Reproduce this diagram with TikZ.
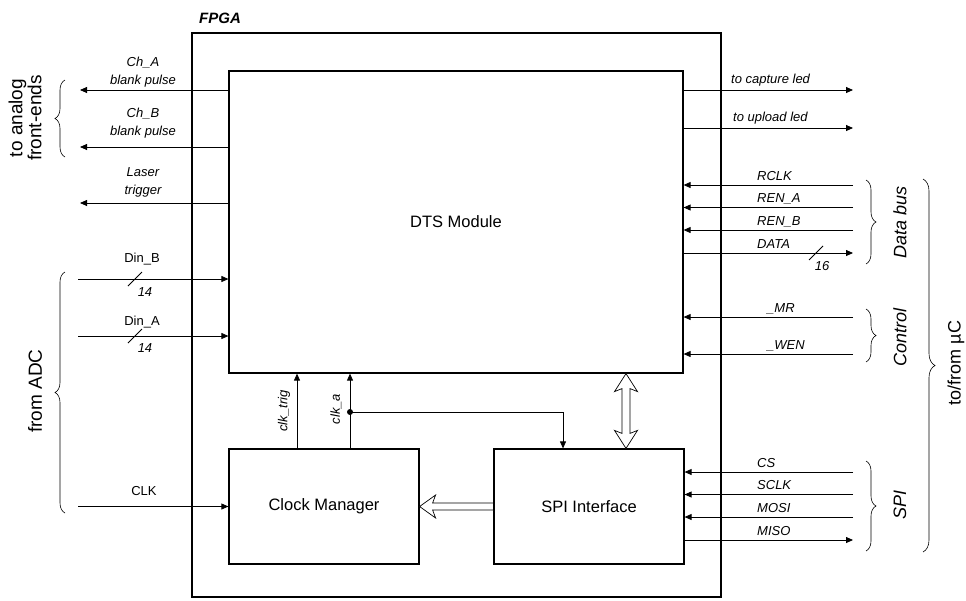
\documentclass[tikz,border=0pt]{standalone}
\usepackage{fontspec}
\setmainfont{Liberation Sans}
\usetikzlibrary{arrows.meta,calc,decorations.pathreplacing}

\begin{document}
\begin{tikzpicture}[x=1pt,y=-1pt,
  box/.style={draw, line width=1.2pt, inner sep=0pt},
  block/.style={box, font=\fontsize{16.5}{19}\selectfont},
  sig/.style={line width=0.8pt, -{Triangle[length=7pt,width=6pt]}},
  wire/.style={line width=0.8pt},
  lbl/.style={font=\fontsize{13}{18}\selectfont\itshape, inner sep=0pt},
  plbl/.style={font=\fontsize{13}{18}\selectfont, inner sep=0pt},
  grp/.style={decorate, decoration={brace, amplitude=#1}, line width=0.6pt},
  side/.style={font=\fontsize{19}{19}\selectfont, rotate=90, align=center, inner sep=0pt},
  iside/.style={side, font=\fontsize{18}{19}\selectfont\itshape},
  fat/.style={draw, line width=0.7pt, fill=white, line join=miter}]
\useasboundingbox (0,0) rectangle (966,600);

\node[box, minimum width=529pt, minimum height=564pt] (fpga) at (456.5,315) {};
\node[font=\fontsize{15}{17}\selectfont\bfseries\itshape] (fpgaTitle) at (220,18) {FPGA};
\node[block, minimum width=454pt, minimum height=302pt] (dts) at (456,222) {DTS Module};
\node[block, minimum width=190pt, minimum height=115pt] (cm) at (324,506.5) {Clock Manager};
\node[block, minimum width=190pt, minimum height=115pt] (spi) at (589,506.5) {SPI Interface};

\coordinate (chA) at (80,90);
\coordinate (chB) at (80,147);
\coordinate (laser) at (80,203);
\draw[sig] (dts.west |- chA) -- (chA);
\draw[sig] (dts.west |- chB) -- (chB);
\draw[sig] (dts.west |- laser) -- (laser);
\node[lbl, align=center, anchor=south] (lChA) at (143,87.5) {Ch\_A\\blank pulse};
\node[lbl, align=center, anchor=south] (lChB) at (143,138.5) {Ch\_B\\blank pulse};
\node[lbl, align=center, anchor=south] (lLaser) at (143,197) {Laser\\trigger};

\coordinate (dinB) at (78,279);
\coordinate (dinA) at (78,336);
\coordinate (clkIn) at (78,506.5);
\draw[sig] (dinB) -- (dinB -| dts.west);
\draw[sig] (dinA) -- (dinA -| dts.west);
\draw[sig] (clkIn) -- (cm.west);
\draw[wire] (128,286) -- (142,272);
\draw[wire] (128,343) -- (142,329);
\node[plbl] (lDinB) at (142,259) {Din\_B};
\node[lbl] (wDinB) at (145,292) {14};
\node[plbl] (lDinA) at (142,322.5) {Din\_A};
\node[lbl] (wDinA) at (145,348.5) {14};
\node[plbl] (lClk) at (144,491) {CLK};

\draw[grp=10pt] (65,157) -- (65,80);
\draw[grp=10pt] (65,513) -- (65,272);
\node[side] (frontEnds) at (25,118) {to analog\\front-ends};
\node[side] (fromAdc) at (35,391) {from ADC};

\coordinate (capLed) at (853,90);
\coordinate (upLed) at (853,128);
\draw[sig] (dts.east |- capLed) -- (capLed);
\draw[sig] (dts.east |- upLed) -- (upLed);
\node[lbl, anchor=base west] (lCap) at (731,83) {to capture led};
\node[lbl, anchor=base west] (lUp) at (733,121) {to upload led};

\coordinate (rclk) at (853,185);
\coordinate (renA) at (853,207.5);
\coordinate (renB) at (853,230);
\coordinate (data) at (853,253);
\draw[sig] (rclk) -- (rclk -| dts.east);
\draw[sig] (renA) -- (renA -| dts.east);
\draw[sig] (renB) -- (renB -| dts.east);
\draw[sig] (data -| dts.east) -- (data);
\draw[wire] (809,260) -- (823,246);
\node[lbl, anchor=base west] (lRclk) at (757,180) {RCLK};
\node[lbl, anchor=base west] (lRenA) at (757,202.5) {REN\_A};
\node[lbl, anchor=base west] (lRenB) at (757,225) {REN\_B};
\node[lbl, anchor=base west] (lData) at (757,248) {DATA};
\node[lbl] (wData) at (822,266) {16};

\coordinate (mr) at (853,317);
\coordinate (wen) at (853,354);
\draw[sig] (mr) -- (mr -| dts.east);
\draw[sig] (wen) -- (wen -| dts.east);
\node[lbl, anchor=base west] (lMr) at (767,312) {\_MR};
\node[lbl, anchor=base west] (lWen) at (767,349) {\_WEN};

\coordinate (cs) at (853,472);
\coordinate (sclk) at (853,494.5);
\coordinate (mosi) at (853,517);
\coordinate (miso) at (853,540);
\draw[sig] (cs) -- (cs -| spi.east);
\draw[sig] (sclk) -- (sclk -| spi.east);
\draw[sig] (mosi) -- (mosi -| spi.east);
\draw[sig] (miso -| spi.east) -- (miso);
\node[lbl, anchor=base west] (lCs) at (757,467) {CS};
\node[lbl, anchor=base west] (lSclk) at (757,489.5) {SCLK};
\node[lbl, anchor=base west] (lMosi) at (757,512) {MOSI};
\node[lbl, anchor=base west] (lMiso) at (757,535) {MISO};

\draw[grp=10pt] (866,180) -- (866,264);
\draw[grp=10pt] (866,309) -- (866,362);
\draw[grp=10pt] (866,461) -- (866,551);
\draw[grp=12pt] (923,179) -- (923,552);
\node[iside] (dataBus) at (900,222) {Data bus};
\node[iside] (control) at (900,337) {Control};
\node[iside] (spiBus) at (900,505) {SPI};
\node[side, font=\fontsize{18}{19}\selectfont] (uc) at (956,363) {to/from µC};

\coordinate (trigX) at (297,0);
\coordinate (clkA) at (350,412);
\coordinate (spiX) at (563,0);
\draw[sig] (cm.north -| trigX) -- (dts.south -| trigX);
\draw[sig] (cm.north -| clkA) -- (dts.south -| clkA);
\draw[sig] (clkA) -| (spi.north -| spiX);
\fill (clkA) circle (3pt);
\node[lbl, rotate=90] (lTrig) at (284,411) {clk\_trig};
\node[lbl, rotate=90] (lClkA) at (336,409) {clk\_a};

\coordinate (busX) at (626,0);
\draw[fat] (dts.south -| busX) -- ++(11.5,18) -- ++(-7.5,-3)
  -- ($(spi.north -| busX)+(4,-15)$) -- ++(7.5,-3) -- (spi.north -| busX)
  -- ++(-11.5,-18) -- ++(7.5,3) -- ($(dts.south -| busX)+(-4,15)$)
  -- ++(-7.5,3) -- cycle;
\draw[fat] (cm.east) -- ++(16,-11.5) -- ++(-3,8) -- ($(spi.west)+(0,-3.5)$)
  -- ++(0,7) -- ($(cm.east)+(13,3.5)$) -- ++(3,8) -- cycle;
\end{tikzpicture}
\end{document}
